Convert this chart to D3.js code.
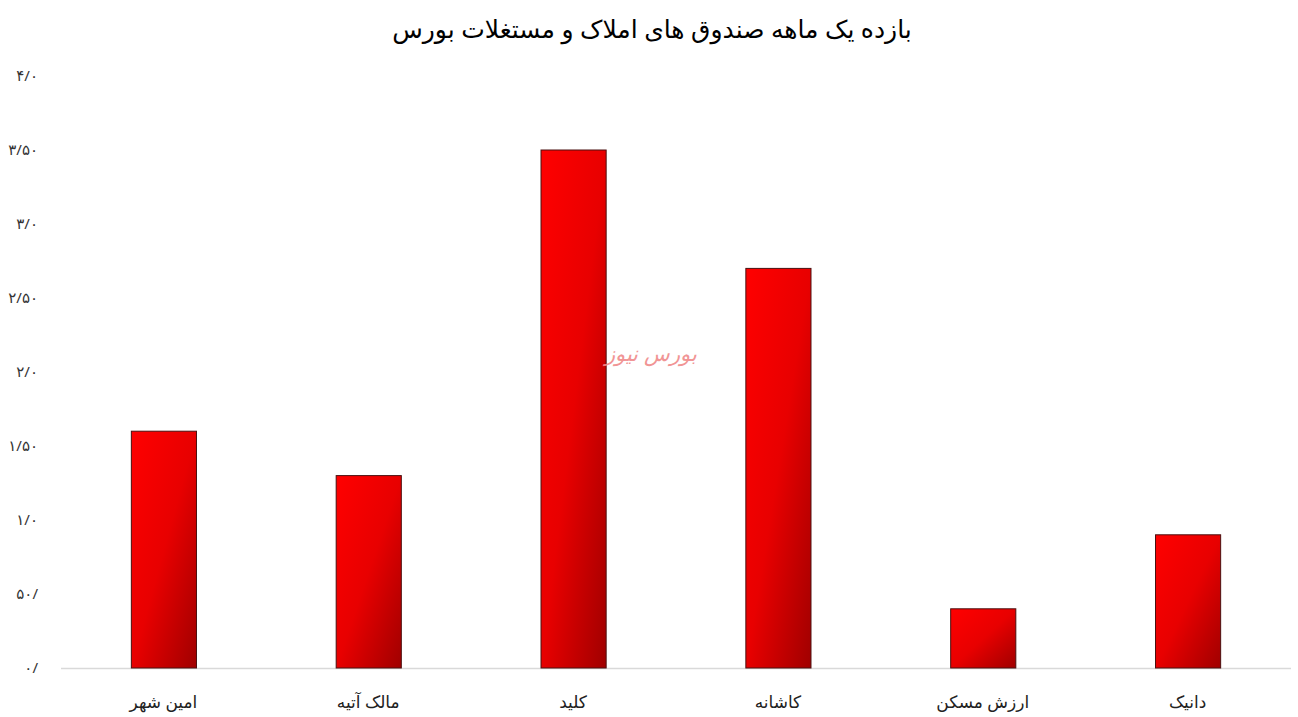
<!DOCTYPE html>
<html><head><meta charset="utf-8">
<script src="https://cdn.jsdelivr.net/npm/d3@7"></script>
<style>
html,body{margin:0;padding:0;background:#fff;}
svg{display:block;}
</style></head>
<body>
<svg id="chart" width="1298" height="717"></svg>
<script>
const title = "بازده یک ماهه صندوق های املاک و مستغلات بورس";
const categories = ["امین شهر","مالک آتیه","کلید","کاشانه","ارزش مسکن","دانیک"];
const values = [1.6, 1.3, 3.5, 2.7, 0.4, 0.9];
const tickValues = [0,0.5,1,1.5,2,2.5,3,3.5,4];
const tickLabels = ["۰/","۵۰/","۱/۰","۱/۵۰","۲/۰","۲/۵۰","۳/۰","۳/۵۰","۴/۰"];
const watermark = "بورس نیوز";

const svg = d3.select("#chart");
const W = 1298, H = 717;
const m = {left:61, right:8, top:76, bottom:49};

const x = d3.scaleBand().domain(categories).range([m.left, W - m.right]).paddingInner(0.682).paddingOuter(0.341);
const y = d3.scaleLinear().domain([0,4]).range([H - m.bottom, m.top]);

const defs = svg.append("defs");
const g = defs.append("linearGradient").attr("id","barGrad")
  .attr("x1","0").attr("y1","0").attr("x2","1").attr("y2","1");
g.append("stop").attr("offset","0").attr("stop-color","#ff0000");
g.append("stop").attr("offset","0.5").attr("stop-color","#e80000");
g.append("stop").attr("offset","1").attr("stop-color","#a00000");

svg.append("text").attr("x", 652).attr("y", 38).attr("text-anchor","middle")
  .attr("font-family","'Noto Sans', 'DejaVu Sans', sans-serif").attr("font-size",25).attr("fill","#000")
  .text(title);

// y axis labels
const yAxis = d3.axisLeft(y).tickValues(tickValues).tickFormat((d,i)=>tickLabels[i]).tickSize(0).tickPadding(0);
const ya = svg.append("g").attr("transform", `translate(38,0)`).call(yAxis);
ya.select(".domain").remove();
ya.selectAll("text").attr("font-family","'Noto Sans', 'DejaVu Sans', sans-serif").attr("font-size",15).attr("fill","#333").attr("direction","ltr");

// baseline
svg.append("line").attr("x1", m.left).attr("x2", W - m.right + 1).attr("y1", y(0)+0.5).attr("y2", y(0)+0.5)
  .attr("stroke","#d9d9d9").attr("stroke-width",1.5);

// bars
svg.append("g").selectAll("rect").data(values).join("rect")
  .attr("x",(d,i)=>x(categories[i])+0.5)
  .attr("y",d=>y(d))
  .attr("width", x.bandwidth())
  .attr("height", d=>y(0)-y(d))
  .attr("fill","url(#barGrad)")
  .attr("stroke","#4a1010").attr("stroke-width",1);

// x labels
const xAxis = d3.axisBottom(x).tickSize(0).tickPadding(0);
const xa = svg.append("g").attr("transform",`translate(0,${y(0)+35})`).call(xAxis);
xa.select(".domain").remove();
xa.selectAll("text").attr("font-family","'Noto Sans', 'DejaVu Sans', sans-serif").attr("font-size",17).attr("fill","#222").attr("dy","0.3em");

// watermark
svg.append("text").attr("x", 651).attr("y", 361).attr("text-anchor","middle")
  .attr("font-family","'DejaVu Serif', 'Noto Sans', serif").attr("font-style","italic")
  .attr("font-size",21).attr("fill","#f08a8a").attr("opacity",0.9)
  .text(watermark);
</script>
</body></html>
